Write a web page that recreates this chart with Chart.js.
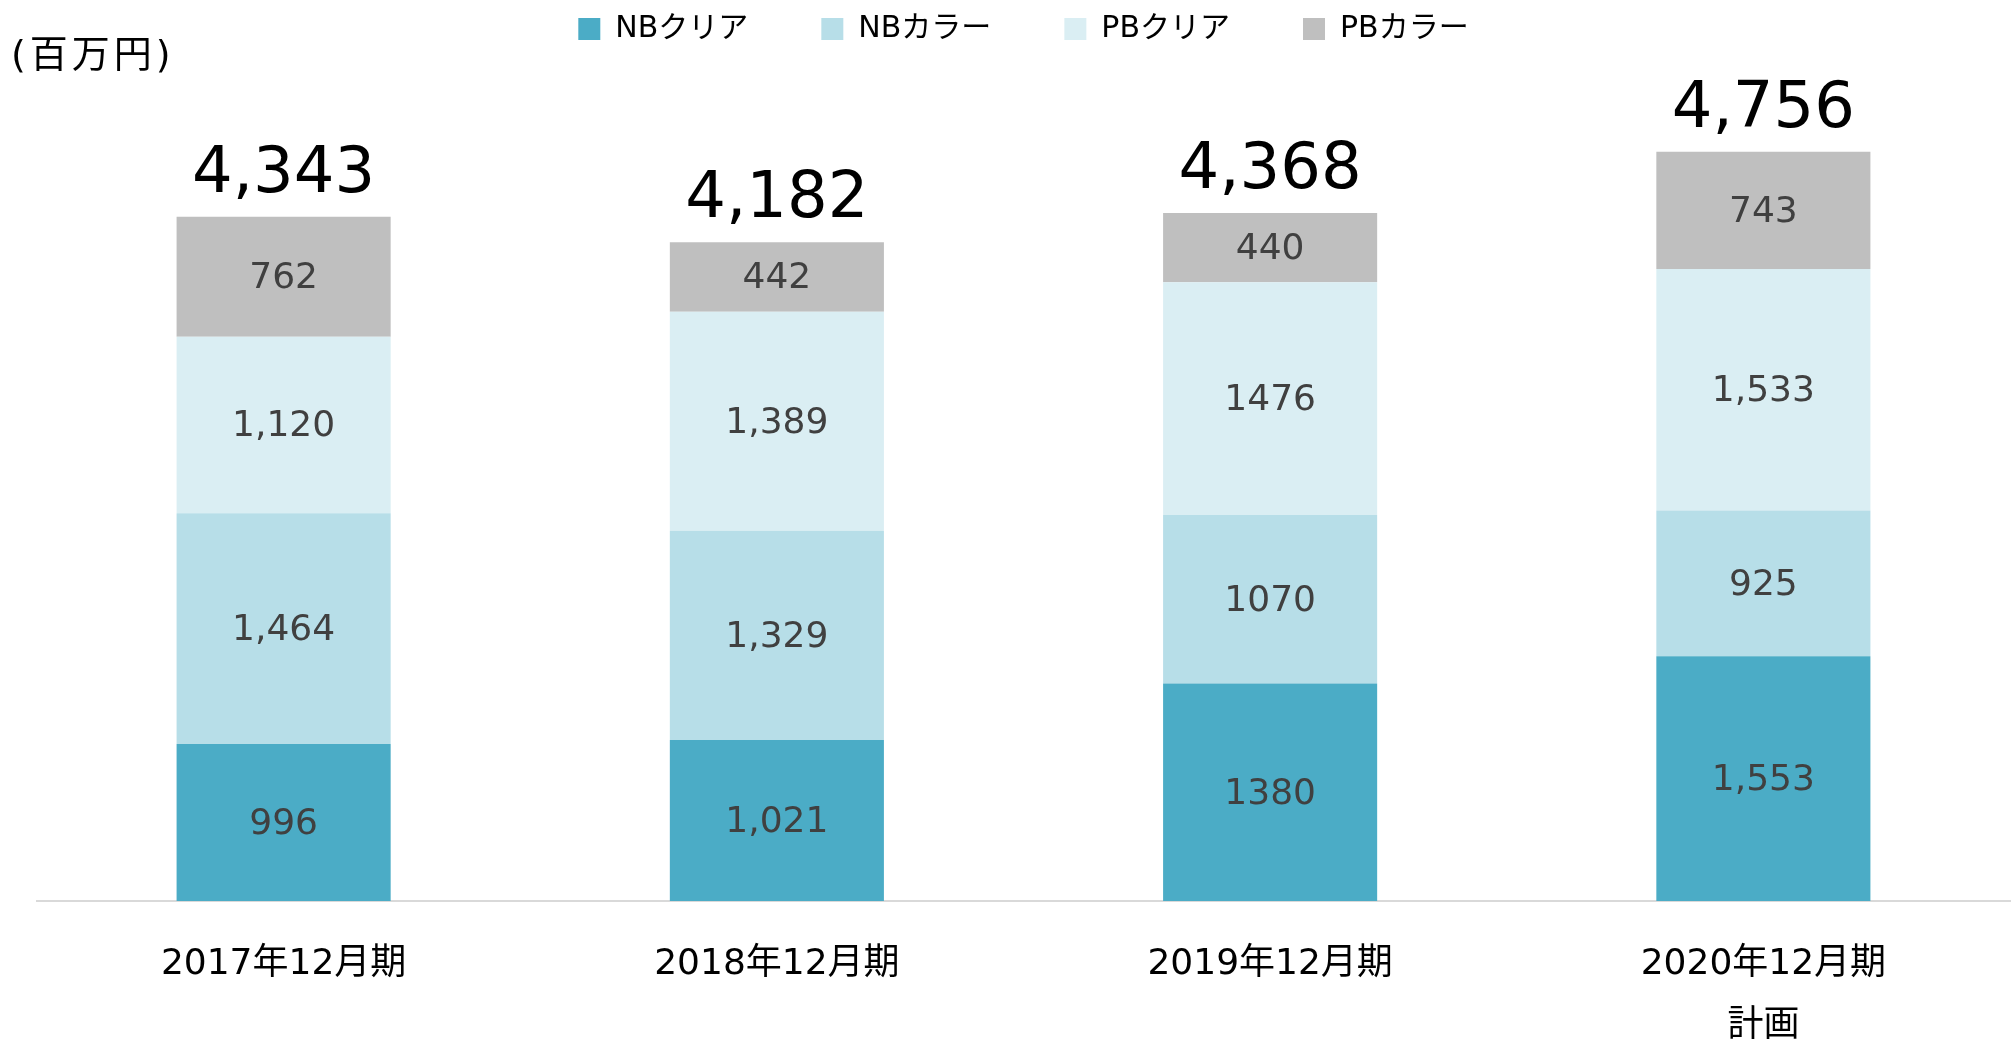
<!DOCTYPE html>
<html>
<head>
<meta charset="utf-8">
<script src="https://cdn.jsdelivr.net/npm/chart.js@4"></script>
<style>
  body { margin: 0; background: #fff; }
  #wrap { width: 2013px; height: 1040px; }
</style>
</head>
<body>
<div id="wrap"><canvas id="salesChart"></canvas></div>
<script>
const categories = [['2017年12月期'], ['2018年12月期'], ['2019年12月期'], ['2020年12月期', '計画']];
const nbClear = [996, 1021, 1380, 1553];
const nbColor = [1464, 1329, 1070, 925];
const pbClear = [1120, 1389, 1476, 1533];
const pbColor = [762, 442, 440, 743];
const totals = [4343, 4182, 4368, 4756];
const withComma = [true, true, false, true]; // 2019 segment labels are shown without comma

const FONT = '"DejaVu Sans", "Noto Sans CJK JP", sans-serif';

function fmt(v, comma) {
    return comma ? v.toLocaleString('en-US') : String(v);
}

// draws segment values, totals and the unit label
const valueLabels = {
    id: 'valueLabels',
    afterDatasetsDraw(chart) {
        const ctx = chart.ctx;
        ctx.save();
        ctx.textAlign = 'center';
        ctx.textBaseline = 'middle';
        ctx.fillStyle = '#404040';
        ctx.font = '36px ' + FONT;
        chart.data.datasets.forEach((ds, i) => {
            const meta = chart.getDatasetMeta(i);
            meta.data.forEach((bar, j) => {
                const y = (bar.y + bar.base) / 2;
                ctx.fillText(fmt(ds.data[j], withComma[j]), bar.x, y + 2);
            });
        });

        // totals above the stack
        const top = chart.getDatasetMeta(chart.data.datasets.length - 1);
        ctx.fillStyle = '#000';
        ctx.font = '64px ' + FONT;
        ctx.textBaseline = 'alphabetic';
        top.data.forEach((bar, j) => {
            ctx.fillText(fmt(totals[j], true), bar.x, bar.y - 25);
        });

        // unit
        ctx.textAlign = 'left';
        ctx.textBaseline = 'middle';
        ctx.font = '38px ' + FONT;
        ctx.letterSpacing = '4px';
        ctx.fillText('(百万円)', 11, 57);
        ctx.restore();
    }
};

const ctx = document.getElementById('salesChart').getContext('2d');
new Chart(ctx, {
    type: 'bar',
    data: {
        labels: categories,
        datasets: [
            { label: 'NBクリア', data: nbClear, backgroundColor: '#4BACC6' },
            { label: 'NBカラー', data: nbColor, backgroundColor: '#B7DEE8' },
            { label: 'PBクリア', data: pbClear, backgroundColor: '#DAEEF3' },
            { label: 'PBカラー', data: pbColor, backgroundColor: '#BFBFBF' }
        ]
    },
    options: {
        responsive: true,
        maintainAspectRatio: false,
        animation: false,
        categoryPercentage: 1,
        barPercentage: 0.434,
        borderWidth: 0,
        layout: {
            padding: { top: -59, left: 37, right: 3, bottom: 0 }
        },
        plugins: {
            legend: {
                position: 'top',
                labels: {
                    boxWidth: 22,
                    boxHeight: 22,
                    padding: 73,
                    color: '#000',
                    font: { family: FONT, size: 30 }
                }
            },
            tooltip: { enabled: false }
        },
        scales: {
            x: {
                stacked: true,
                grid: { display: false, drawTicks: false },
                border: { color: '#D9D9D9', width: 2 },
                ticks: {
                    color: '#000',
                    padding: 33,
                    font: { family: FONT, size: 36, lineHeight: 1.72 }
                },
                afterFit(scale) {
                    scale.height = 139; // keep baseline where the original has it
                }
            },
            y: {
                stacked: true,
                display: false,
                min: 0,
                max: 5375
            }
        }
    },
    plugins: [valueLabels]
});
</script>
</body>
</html>
